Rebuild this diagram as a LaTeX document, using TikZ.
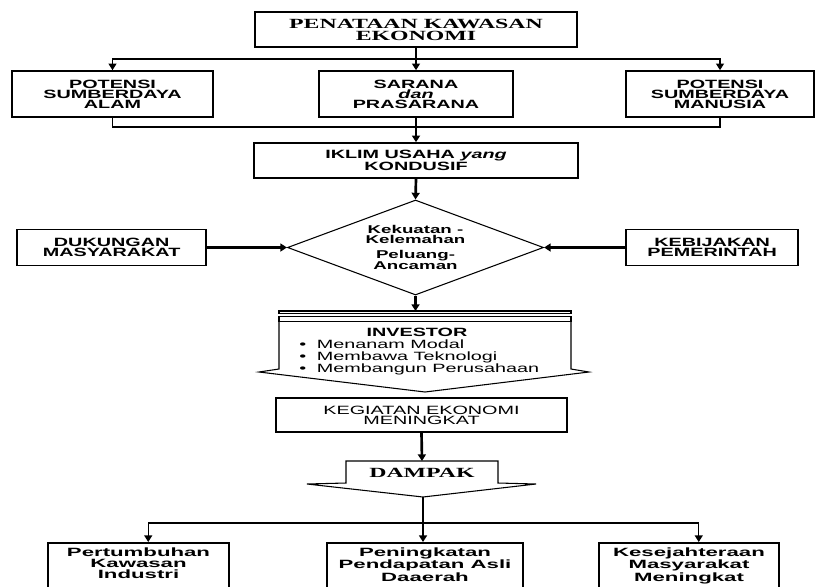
\documentclass[tikz,border=0pt]{standalone}
\usepackage{fontspec}
\usetikzlibrary{shapes.geometric, arrows.meta, positioning}
\newfontfamily\sansw{Liberation Sans}[FakeStretch=1.65]
\newfontfamily\sansx{Liberation Sans}[FakeStretch=1.85]
\newfontfamily\serifw{Liberation Serif}[FakeStretch=1.7]
\newcommand{\invbullet}{\textbullet\hspace{8pt}}
\tikzset{
  basenode/.style={draw, line width=1.2pt, align=center, inner sep=0pt, font=\sansw\bfseries\fontsize{9}{7.6}\selectfont},
  topnode/.style={basenode, font=\serifw\bfseries\fontsize{10.5}{9}\selectfont},
  resnode/.style={basenode, anchor=north, inner sep=3.5pt, text depth=40pt, font=\sansx\bfseries\fontsize{9}{8.2}\selectfont},
  decnode/.style={diamond, draw, line width=0.8pt, aspect=2.7, inner sep=0pt, align=center, font=\sansw\bfseries\fontsize{8.5}{7.4}\selectfont},
  bigarrow/.style={line width=0.8pt},
  linkline/.style={line width=1pt},
  flowarrow/.style={-{Triangle[length=5pt,width=6pt]}, line width=2pt},
  sidearrow/.style={flowarrow, line width=1.6pt},
  linkarrow/.style={-{Triangle[length=5pt,width=6pt]}, line width=1pt},
}
\begin{document}
\begin{tikzpicture}[x=0.75pt, y=-0.75pt]
  \useasboundingbox (0,0) rectangle (816,586);
  % top row
  \node[topnode, minimum width=241.5pt, minimum height=26.25pt] (top) at (416,29.5) {PENATAAN KAWASAN\\EKONOMI};
  \node[basenode, minimum width=150.75pt, minimum height=34.5pt] (sda) at (112.5,94) {POTENSI\\SUMBERDAYA\\ALAM};
  \node[basenode, minimum width=145.5pt, minimum height=34.5pt] (sarana) at (416,94) {SARANA\\{\itshape dan}\\PRASARANA};
  \node[basenode, minimum width=141pt, minimum height=34.5pt] (sdm) at (720,94) {POTENSI\\SUMBERDAYA\\MANUSIA};
  \coordinate (t1) at (416,59);
  \coordinate (t2) at (416,127);
  \draw[linkline] (top.south) -- (t1);
  \draw[linkarrow] (t1) -| (sda.north);
  \draw[linkarrow] (t1) -| (sdm.north);
  \draw[linkarrow] (t1) -- (sarana.north);
  \draw[linkline] (sda.south) |- (t2) -| (sdm.south);

  % iklim and swot
  \node[basenode, minimum width=243pt, minimum height=26.25pt] (iklim) at (416,160.5) {IKLIM USAHA {\itshape yang}\\KONDUSIF};
  \node[decnode, minimum width=192pt, minimum height=71.25pt] (swot) at (415.5,247.5) {Kekuatan -\\Kelemahan\\[4pt]Peluang-\\Ancaman};
  \node[basenode, minimum width=141.75pt, minimum height=27pt, left=60pt of swot] (dukungan) {DUKUNGAN\\MASYARAKAT};
  \node[basenode, minimum width=129pt, minimum height=27pt, right=61pt of swot] (kebijakan) {KEBIJAKAN\\PEMERINTAH};
  \draw[flowarrow] (sarana.south) -- (iklim.north);
  \draw[flowarrow] (iklim.south) -- (swot.north);
  \draw[sidearrow] (dukungan.east) -- (swot.west);
  \draw[sidearrow] (kebijakan.west) -- (swot.east);

  % investor arrow
  \coordinate (invtop) at (415.5,311);
  \draw[flowarrow] (swot.south) -- (invtop);
  \draw[bigarrow] (279,311) rectangle (571,313.3);
  \draw[bigarrow] (279,316.7) rectangle (571,321.7);
  \draw[bigarrow] (279,321.7) -- (279,369) -- (259,372) -- (425,392) -- (589,372) -- (571,369) -- (571,321.7);
  \node[font=\sansw\bfseries\fontsize{9}{8}\selectfont, inner sep=0pt] (invtitle) at (417,332) {INVESTOR};
  \node[font=\sansw\fontsize{9}{8.8}\selectfont, align=left, anchor=north west, inner sep=0pt] (invlist) at (299,340)
    {\invbullet Menanam Modal\\
     \invbullet Membawa Teknologi\\
     \invbullet Membangun Perusahaan};

  % kegiatan and dampak
  \node[basenode, minimum width=218.25pt, minimum height=25.5pt, font=\sansw\fontsize{9}{7.6}\selectfont] (kegiatan) at (421.5,415) {KEGIATAN EKONOMI\\MENINGKAT};
  \coordinate (dtop) at (422,461);
  \draw[flowarrow] (kegiatan.south) -- (dtop);
  \draw[bigarrow] (346,461) -- (346,483) -- (307,484) -- (423,497) -- (536,484) -- (498,483) -- (498,461) -- cycle;
  \node[font=\serifw\bfseries\fontsize{10.5}{9}\selectfont, inner sep=0pt] (dampak) at (422,473) {DAMPAK};

  % results
  \node[resnode, minimum width=135.75pt] (pki) at (138.5,542) {Pertumbuhan\\Kawasan\\Industri};
  \node[resnode, minimum width=147pt] (pad) at (425,542) {Peningkatan\\Pendapatan Asli\\Daaerah};
  \node[resnode, minimum width=135pt] (kmm) at (689,542) {Kesejahteraan\\Masyarakat\\Meningkat};
  \coordinate (dtip) at (423,497);
  \coordinate (t3) at (423,523);
  \draw[flowarrow, -] (dtip) -- (t3);
  \draw[flowarrow] (t3) -- (t3 |- pad.north);
  \draw[linkarrow] (t3) -| ([xshift=7.3pt]pki.north);
  \draw[linkarrow] (t3) -| ([xshift=7.3pt]kmm.north);
\end{tikzpicture}
\end{document}
